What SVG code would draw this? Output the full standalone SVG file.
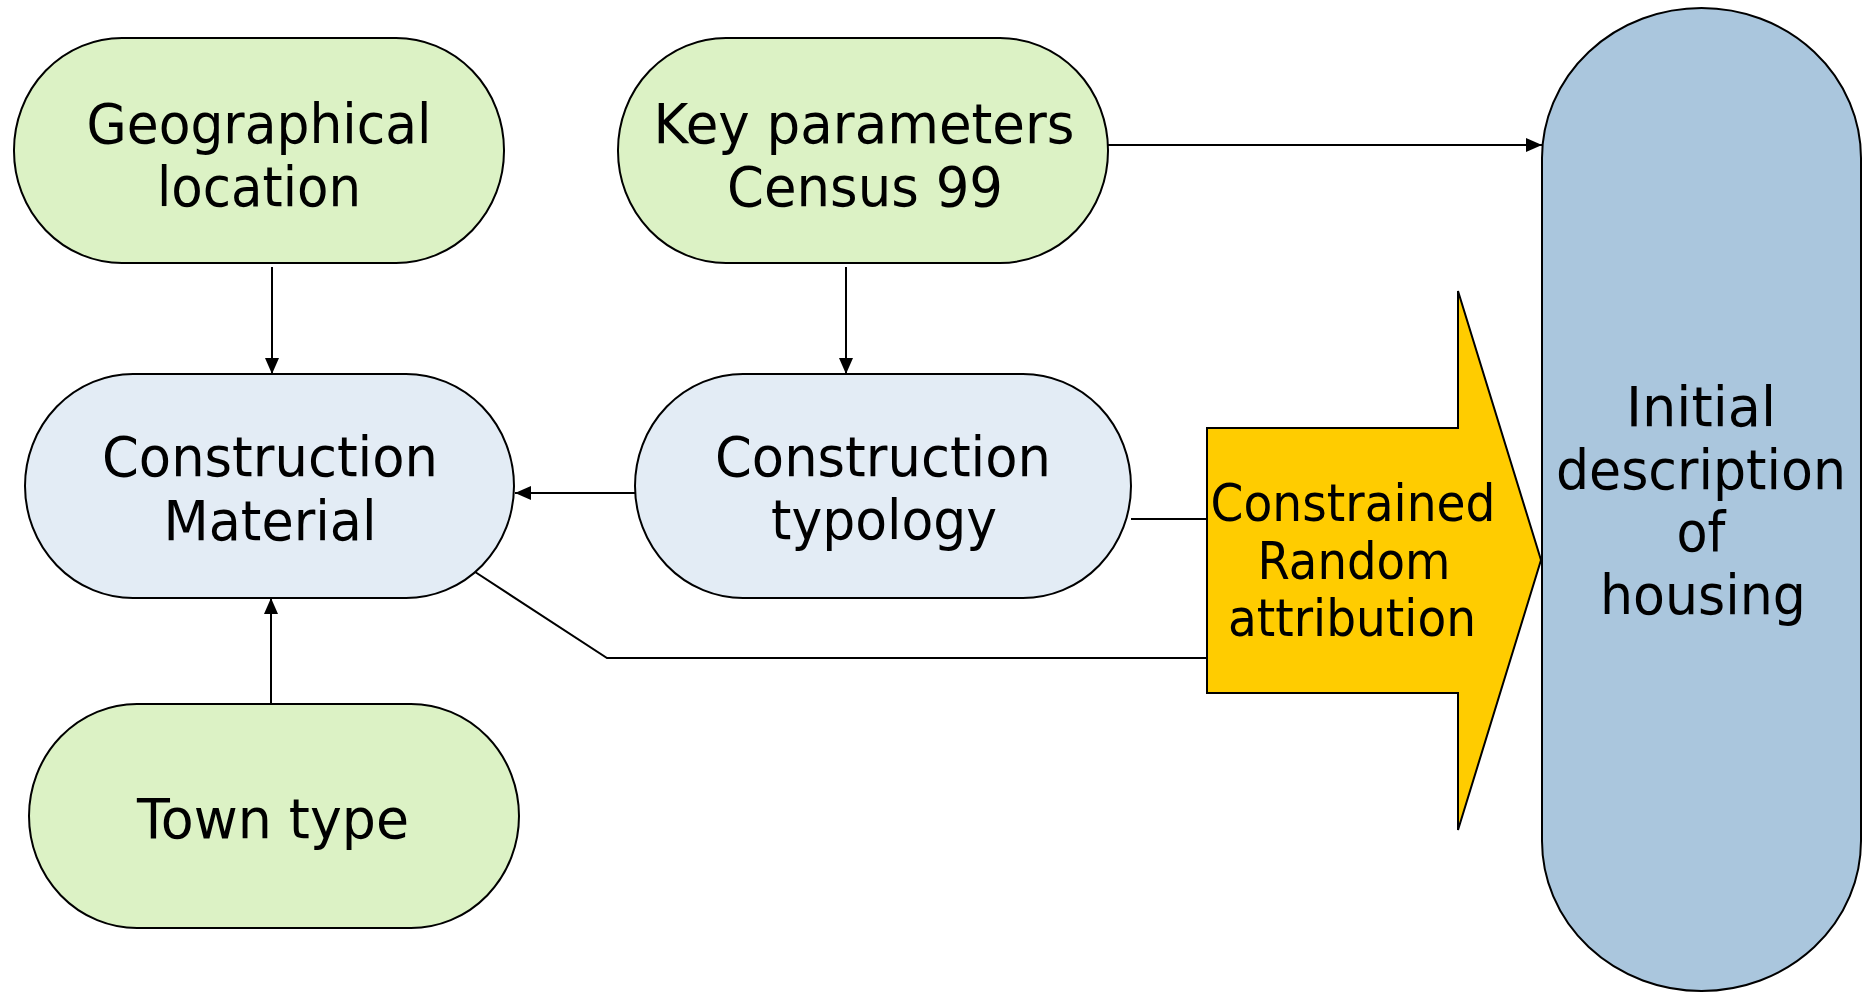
<svg xmlns="http://www.w3.org/2000/svg" width="1865" height="993" viewBox="0 0 1865 993">
  <defs>
    <style>
      .node { stroke: #000; stroke-width: 2; }
      .green { fill: #DCF2C5; }
      .pale { fill: #E3ECF5; }
      .blue { fill: #AAC6DD; }
      .gold { fill: #FFCC00; }
      .lbl { font-family: "DejaVu Sans", Verdana, sans-serif; font-size: 56px; fill: #000; text-anchor: middle; }
      .lbl-s { font-size: 51px; }
      .edge { fill: none; stroke: #000; stroke-width: 2; }
    </style>
    <marker id="arrow" markerUnits="userSpaceOnUse" markerWidth="16" markerHeight="14" refX="16" refY="7" orient="auto">
      <path d="M0,0 L16,7 L0,14 z" fill="#000"/>
    </marker>
  </defs>

  <rect width="1865" height="993" fill="#fff"/>

  <!-- connectors -->
  <g id="connectors">
    <path class="edge" d="M272,267 V374" marker-end="url(#arrow)"/>
    <path class="edge" d="M846,267 V374" marker-end="url(#arrow)"/>
    <path class="edge" d="M1105,145 H1542" marker-end="url(#arrow)"/>
    <path class="edge" d="M635,493 H515" marker-end="url(#arrow)"/>
    <path class="edge" d="M271,704 V598" marker-end="url(#arrow)"/>
    <path class="edge" d="M1131,519 H1207"/>
    <path class="edge" d="M469,568 L607,658 H1207"/>
  </g>

  <!-- input: geographical location -->
  <g id="geo">
    <rect class="node green" x="14" y="38" width="490" height="225" rx="108" ry="112"/>
    <text class="lbl" x="259" y="143" textLength="345" lengthAdjust="spacingAndGlyphs">Geographical</text>
    <text class="lbl" x="259" y="206" textLength="204" lengthAdjust="spacingAndGlyphs">location</text>
  </g>

  <!-- input: census parameters -->
  <g id="census">
    <rect class="node green" x="618" y="38" width="490" height="225" rx="108" ry="112"/>
    <text class="lbl" x="864" y="143" textLength="421" lengthAdjust="spacingAndGlyphs">Key parameters</text>
    <text class="lbl" x="865" y="206" textLength="276" lengthAdjust="spacingAndGlyphs">Census 99</text>
  </g>

  <!-- construction material -->
  <g id="material">
    <rect class="node pale" x="25" y="374" width="489" height="224" rx="108" ry="112"/>
    <text class="lbl" x="270" y="476" textLength="336" lengthAdjust="spacingAndGlyphs">Construction</text>
    <text class="lbl" x="270" y="540" textLength="213" lengthAdjust="spacingAndGlyphs">Material</text>
  </g>

  <!-- construction typology -->
  <g id="typology">
    <rect class="node pale" x="635" y="374" width="496" height="224" rx="108" ry="112"/>
    <text class="lbl" x="883" y="476" textLength="336" lengthAdjust="spacingAndGlyphs">Construction</text>
    <text class="lbl" x="884" y="539" textLength="226" lengthAdjust="spacingAndGlyphs">typology</text>
  </g>

  <!-- town type -->
  <g id="town">
    <rect class="node green" x="29" y="704" width="490" height="224" rx="108" ry="112"/>
    <text class="lbl" x="273" y="838" textLength="272" lengthAdjust="spacingAndGlyphs">Town type</text>
  </g>

  <!-- constrained random attribution (block arrow) -->
  <g id="attribution">
    <polygon class="node gold" points="1207,428 1458,428 1458,291 1541,560 1458,830 1458,693 1207,693"/>
    <text class="lbl lbl-s" x="1353" y="521" textLength="285" lengthAdjust="spacingAndGlyphs">Constrained</text>
    <text class="lbl lbl-s" x="1354" y="579" textLength="193" lengthAdjust="spacingAndGlyphs">Random</text>
    <text class="lbl lbl-s" x="1352" y="636" textLength="248" lengthAdjust="spacingAndGlyphs">attribution</text>
  </g>

  <!-- output: initial description of housing -->
  <g id="housing">
    <rect class="node blue" x="1542" y="8" width="319" height="983" rx="159.5" ry="150"/>
    <text class="lbl" x="1701" y="426" textLength="150" lengthAdjust="spacingAndGlyphs">Initial</text>
    <text class="lbl" x="1701" y="489" textLength="290" lengthAdjust="spacingAndGlyphs">description</text>
    <text class="lbl" x="1701" y="551" textLength="49" lengthAdjust="spacingAndGlyphs">of</text>
    <text class="lbl" x="1703" y="614" textLength="206" lengthAdjust="spacingAndGlyphs">housing</text>
  </g>
</svg>
